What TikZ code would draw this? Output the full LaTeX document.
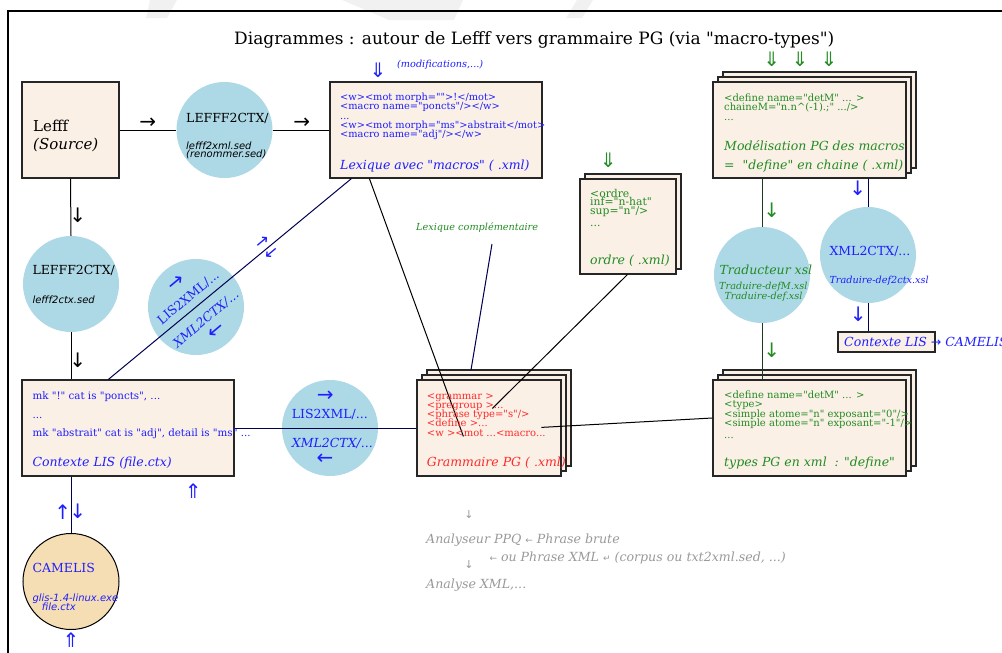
\documentclass[tikz,border=0pt]{standalone}
\usepackage{fontspec}
\setmainfont{DejaVu Serif}
\setsansfont{DejaVu Sans}
\newfontfamily\dvs{DejaVu Serif}
\newfontfamily\arrf{DejaVu Sans}
\usetikzlibrary{calc}
\definecolor{beige}{HTML}{FAF0E6}
\definecolor{lblue}{HTML}{ADD8E6}
\definecolor{wheatc}{HTML}{F5DEB3}
\definecolor{tblue}{HTML}{1E1EFF}
\definecolor{tgreen}{HTML}{228B22}
\definecolor{tred}{HTML}{FF2A2A}
\definecolor{tgray}{HTML}{999999}
\definecolor{navyc}{HTML}{000050}
\definecolor{dgreen}{HTML}{1C3C1C}
\definecolor{wmark}{HTML}{F1F1F1}
\newcounter{labc}
\newcommand\tlab[3]{\stepcounter{labc}\edef\labn{lab\arabic{labc}}\node[lbl,#1] (\labn) at (#2) {#3};}
\newcommand\tarr[3]{\stepcounter{labc}\edef\labn{lab\arabic{labc}}\node[arr,#1] (\labn) at (#2) {\arrf #3};}
\begin{document}
\begin{tikzpicture}[x=1pt,y=-1pt,
  box/.style={draw=black!85,line width=1.2pt,fill=beige,inner sep=0pt},
  circ/.style={circle,fill=lblue,minimum size=96pt,inner sep=0pt},
  lbl/.style={anchor=base west,inner sep=0pt},
  arr/.style={anchor=center,inner sep=0pt},
  code/.style={font=\dvs\fontsize{10}{10}\selectfont},
  codel/.style={font=\dvs\fontsize{9.8}{10}\selectfont},
  codec/.style={font=\dvs\fontsize{10.3}{10}\selectfont},
  codeo/.style={font=\dvs\fontsize{10.8}{10}\selectfont},
  bigit/.style={font=\dvs\fontsize{12.5}{14}\selectfont\itshape},
  cl/.style={font=\dvs\fontsize{12.5}{13}\selectfont},
  clit/.style={font=\dvs\fontsize{12.5}{13}\selectfont\itshape},
  smit/.style={font=\dvs\fontsize{9.7}{10}\selectfont\itshape},
  sans/.style={font=\fontsize{10}{10}\sffamily\itshape},
  arrb/.style={font=\fontsize{20}{20}\selectfont},
  gr/.style={font=\dvs\fontsize{12.6}{13}\selectfont\itshape,tgray},
  conn/.style={line width=1pt}
]
\useasboundingbox (0,0) rectangle (1002,653);
% faint watermark pieces
\fill[wmark] (150,0) -- (177,0) -- (167,18) -- (146,18) -- cycle;
\fill[wmark] (342,0) -- (463,0) -- (454,20) -- (389,20) -- cycle;
\fill[wmark] (577,0) -- (593,0) -- (582,18) -- (566,18) -- cycle;
% frame
\draw[line width=1.8pt] (8,670) -- (8,11) -- (1015,11);
% title
\tlab{font=\dvs\fontsize{17}{18}\selectfont}{234,44}{Diagrammes : autour de Lefff vers grammaire PG (via "macro-types")}

% ---------- boxes ----------
\node[box,minimum width=97pt,minimum height=96pt] (lefff) at (70.5,130) {};
\node[box,minimum width=212pt,minimum height=96pt] (lex) at (436,130) {};
% right top stacked
\draw[box] (723,72) rectangle (916,168);
\draw[box] (718,77) rectangle (911,173);
\node[box,minimum width=193pt,minimum height=96pt] (def) at (809.5,130) {};
% ordre stacked
\draw[box] (585,174) rectangle (681,269);
\node[box,minimum width=96pt,minimum height=95pt] (ordre) at (628,226.5) {};
% contexte
\node[box,minimum width=212pt,minimum height=96pt] (ctx) at (128,428) {};
% grammaire stacked
\draw[box] (427,370) rectangle (571,466);
\draw[box] (422,375) rectangle (566,471);
\node[box,minimum width=144pt,minimum height=96pt] (gram) at (489,428) {};
% types stacked
\draw[box] (723,370) rectangle (916,466);
\draw[box] (718,375) rectangle (911,471);
\node[box,minimum width=193pt,minimum height=96pt] (types) at (809.5,428) {};
% small contexte box
\node[draw=black!85,line width=1.2pt,fill=beige,inner sep=0pt,minimum width=97pt,minimum height=20pt] (cam) at (886.5,342) {};

% ---------- circles ----------
\node[circ] (c1) at (224.5,130) {};
\node[circ] (c2) at (71,284) {};
\node[circ] (rot) at (196,307) {};
\node[circ] (l2) at (330,428) {};
\node[circ] (trad) at (762,275) {};
\node[circ] (x2) at (868,255) {};
\node[circle,draw=black,line width=1pt,fill=wheatc,minimum size=96pt,inner sep=0pt] (camel) at (71,581.5) {};

% ---------- connectors ----------
\draw[conn] (lefff.east) -- (c1.west);
\draw[conn] (c1.east) -- (lex.west);
\draw[conn] (lefff.south) -- (c2.north);
\draw[conn] (c2.south) -- (c2.south |- ctx.north);
\draw[conn,navyc] ($(ctx.north west)+(87,0)$) -- ($(lex.south west)+(22,0)$);
\draw[conn,navyc] (ctx.east) -- (gram.west);
\draw[conn,navyc] (ctx.south -| camel.north) -- (camel.north);
\draw[conn] ($(lex.south west)+(40,0)$) -- ($(gram.north west)+(47,57)$);
\draw[conn] ($(ordre.south west)+(48,0)$) -- ($(gram.north west)+(76,29)$);
\draw[conn,navyc] (492,244) -- (471,370);
\draw[conn] (types.west |- 0,418) -- ($(gram.north west)+(125,48)$);
\draw[conn,dgreen] (def.south -| trad.north) -- (trad.north);
\draw[conn,dgreen] (trad.south) -- (trad.south |- types.north);
\draw[conn,navyc] (def.south -| x2.north) -- (x2.north);
\draw[conn,navyc] (x2.south) -- (x2.south |- cam.north);

% ---------- texts ----------
% Lefff
\tlab{font=\dvs\fontsize{15}{16}\selectfont}{33,131}{Lefff}
\tlab{font=\dvs\fontsize{15}{16}\selectfont\itshape}{33,149}{(Source)}
\tarr{arrb}{147.7,123}{→}
\tarr{arrb}{301.7,123}{→}
% c1
\tlab{cl}{186,122}{LEFFF2CTX/}
\tlab{sans}{186,149.3}{lefff2xml.sed}
\tlab{sans}{186,157.7}{(renommer.sed)}
% lexique
\tarr{arrb,tblue}{378,70}{⇓}
\tlab{smit,tblue}{397,67}{(modifications,...)}
\tlab{codel,tblue}{340,100.5}{<w><mot morph="">!</mot>}
\tlab{codel,tblue}{340,109.5}{<macro name="poncts"/></w>}
\tlab{codel,tblue}{340,119}{...}
\tlab{codel,tblue}{340,128.5}{<w><mot morph="ms">abstrait</mot>}
\tlab{codel,tblue}{340,137.5}{<macro name="adj"/></w>}
\tlab{bigit,tblue}{340,169.3}{Lexique avec "macros" ( .xml)}
% define top
\tarr{arrb,tgreen}{771.7,59.5}{⇓}
\tarr{arrb,tgreen}{800,59.5}{⇓}
\tarr{arrb,tgreen}{829,59.5}{⇓}
\tlab{code,tgreen}{724,101.7}{<define name="detM" ... >}
\tlab{code,tgreen}{724,110}{chaineM="n.n\textasciicircum(-1).;" .../>}
\tlab{code,tgreen}{724,120}{...}
\tlab{bigit,tgreen}{724,150}{Modélisation PG des macros}
\tlab{bigit,tgreen}{724,169.3}{=\ \ "define" en chaine ( .xml)}
% ordre
\tarr{arrb,tgreen}{608.3,160}{⇓}
\tlab{codeo,tgreen}{590,197.3}{<ordre}
\tlab{codeo,tgreen}{590,205.7}{inf="n-hat"}
\tlab{codeo,tgreen}{590,214}{sup="n"/>}
\tlab{codeo,tgreen}{590,226}{...}
\tlab{bigit,tgreen}{590,264}{ordre ( .xml)}
% lexique complementaire
\tlab{smit,tgreen}{416,230.7}{Lexique complémentaire}
% c2
\tarr{arrb}{77.7,215.7}{↓}
\tlab{cl}{32.3,274}{LEFFF2CTX/}
\tlab{sans}{32.3,303.3}{lefff2ctx.sed}
\tarr{arrb}{77.7,360}{↓}
% rotated circle
\tarr{arrb,tblue,rotate=40}{176.1,283.3}{→}
\node[arr,cl,tblue,rotate=40] (rl1) at (188.3,297.8) {LIS2XML/...};
\node[arr,clit,tblue,rotate=40] (rl2) at (206,318.9) {XML2CTX/...};
\tarr{arrb,tblue,rotate=40}{216.2,331}{←}
\tarr{font=\fontsize{17}{17}\selectfont,tblue,rotate=40}{263.5,242.5}{→}
\tarr{font=\fontsize{17}{17}\selectfont,tblue,rotate=40}{272.5,253}{←}
% contexte
\tlab{codec,tblue}{32.3,399.3}{mk "!" cat is "poncts", ...}
\tlab{codec,tblue}{32.3,418}{...}
\tlab{codec,tblue}{32.3,436.7}{mk "abstrait" cat is "adj", detail is "ms" ...}
\tlab{bigit,tblue}{32.3,466}{Contexte LIS (file.ctx)}
\tarr{arrb,tblue}{193.3,490.7}{⇑}
% l2
\tarr{arrb,tblue}{325.3,396.7}{→}
\tlab{cl,tblue}{291.7,418.3}{LIS2XML/...}
\tlab{clit,tblue}{291.7,447.3}{XML2CTX/...}
\tarr{arrb,tblue}{325,459.3}{←}
% grammaire
\tlab{code,tred}{426.7,399}{<grammar >}
\tlab{code,tred}{426.7,408.3}{<pregroup >...}
\tlab{code,tred}{426.7,417.7}{<phrase type="s"/>}
\tlab{code,tred}{426.7,426.7}{<define >...}
\tlab{code,tred}{426.7,436.7}{<w ><mot ...<macro...}
\tlab{bigit,tred}{426.7,466}{Grammaire PG ( .xml)}
% types
\tlab{code,tgreen}{724,398.3}{<define name="detM" ... >}
\tlab{code,tgreen}{724,407.7}{<type>}
\tlab{code,tgreen}{724,417.3}{<simple atome="n" exposant="0"/>}
\tlab{code,tgreen}{724,426.7}{<simple atome="n" exposant="-1"/>}
\tlab{code,tgreen}{724,438.3}{...}
\tlab{bigit,tgreen}{724,466}{types PG en xml\ \ : "define"}
% traducteur
\tarr{arrb,tgreen}{771.7,210}{↓}
\tlab{clit,tgreen}{719.3,274}{Traducteur xsl}
\tlab{smit,tgreen}{719,289}{Traduire-defM.xsl}
\tlab{smit,tgreen}{724.3,299}{Traduire-def.xsl}
\tarr{arrb,tgreen}{771.7,350}{↓}
% xml2ctx
\tarr{arrb,tblue}{857.7,188}{↓}
\tlab{cl,tblue}{829.3,255.7}{XML2CTX/...}
\tlab{smit,tblue}{829.3,283.3}{Traduire-def2ctx.xsl}
\tarr{arrb,tblue}{858.3,314}{↓}
\tlab{bigit,tblue}{844,346.7}{Contexte LIS {\upshape\arrf →} CAMELIS}
% camelis
\tarr{arrb,tblue}{62.7,511.7}{↑}
\tarr{arrb,tblue}{77.7,511.7}{↓}
\tlab{cl,tblue}{32.3,572}{CAMELIS}
\tlab{sans,tblue}{32.3,601}{glis-1.4-linux.exe}
\tlab{sans,tblue}{41.7,610}{file.ctx}
\tarr{arrb,tblue}{71,640}{⇑}
% bottom gray
\tarr{font=\fontsize{11}{11}\selectfont,tgray}{469,515}{↓}
\tlab{gr}{426,543.3}{Analyseur PPQ {\upshape\arrf\small ←} Phrase brute}
\tlab{gr}{489.3,561.7}{{\upshape\arrf\small ←} ou Phrase XML {\upshape\arrf\small ↵} (corpus ou txt2xml.sed, ...)}
\tarr{font=\fontsize{11}{11}\selectfont,tgray}{469,565}{↓}
\tlab{gr}{426,588}{Analyse XML,...}
\end{tikzpicture}
\end{document}
